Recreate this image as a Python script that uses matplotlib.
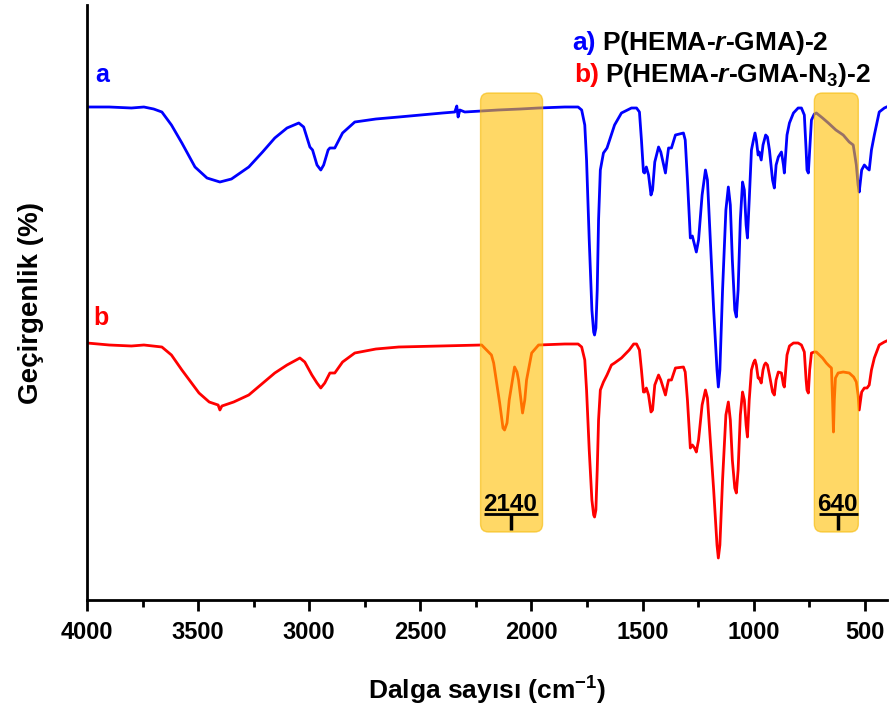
import numpy as np
import matplotlib
matplotlib.use("Agg")
import matplotlib.pyplot as plt
from matplotlib.patches import FancyBboxPatch

plt.rcParams['font.family'] = ['Liberation Sans', 'DejaVu Sans']
plt.rcParams['font.weight'] = 'bold'
plt.rcParams['mathtext.fontset'] = 'custom'
plt.rcParams['mathtext.rm'] = 'Liberation Sans:bold'
plt.rcParams['mathtext.bf'] = 'Liberation Sans:bold'
plt.rcParams['mathtext.it'] = 'Liberation Sans:bold:italic'

# spectrum a) P(HEMA-r-GMA)-2 : wavenumber (cm-1), transmittance (a.u., offset)
wn_a = [4000, 3900, 3800, 3744, 3700, 3663, 3620, 3573, 3514, 3460, 3402, 3350,
        3272, 3210, 3155, 3100, 3047, 3025, 2997, 2985, 2965, 2948, 2935, 2915,
        2907, 2885, 2850, 2795, 2700, 2597, 2500, 2400, 2345, 2336, 2330, 2322,
        2300, 2224, 2150, 2050, 1968, 1850, 1790, 1774, 1760, 1752, 1740, 1728,
        1720, 1716, 1710, 1704, 1698, 1690, 1676, 1660, 1626, 1595, 1550, 1527,
        1514, 1505, 1496, 1491, 1483, 1473, 1462, 1455, 1445, 1428, 1418, 1397,
        1390, 1383, 1370, 1352, 1316, 1308, 1298, 1285, 1276, 1266, 1258, 1248,
        1232, 1217, 1208, 1195, 1180, 1165, 1159, 1152, 1140, 1125, 1114, 1105,
        1096, 1085, 1078, 1070, 1060, 1050, 1042, 1034, 1028, 1020, 1010, 1001,
        994, 988, 980, 975, 966, 958, 952, 946, 938, 929, 915, 907, 899, 889,
        875, 866, 862, 850, 839, 821, 800, 785, 772, 764, 760, 754, 748, 740,
        727, 718, 690, 664, 630, 597, 570, 552, 538, 530, 525, 514, 502, 490,
        480, 470, 457, 435, 412, 402]
t_a = [493, 493, 492, 493, 491, 488, 475, 457, 433, 422, 418, 421,
       433, 448, 462, 472, 477, 473, 453, 450, 435, 430, 435, 450,
       452, 452, 467, 478, 481, 483, 485, 487, 488, 494, 483, 490,
       488, 489, 490, 491, 492, 493, 493, 490, 475, 440, 360, 290,
       268, 265, 272, 310, 380, 430, 447, 452, 475, 487, 492, 492,
       488, 460, 428, 427, 433, 425, 405, 410, 438, 453, 448, 427,
       440, 452, 452, 465, 467, 460, 420, 362, 364, 355, 348, 360,
       405, 430, 420, 360, 290, 230, 213, 230, 310, 390, 413, 395,
       340, 290, 283, 310, 380, 418, 410, 375, 362, 400, 450, 460,
       467, 460, 445, 448, 440, 455, 460, 465, 463, 450, 420, 412, 435, 443,
       448, 435, 427, 465, 477, 487, 492, 492, 485, 450, 430, 427, 450, 480,
       486, 487, 482, 477, 470, 465, 458, 455, 435, 415, 408, 430, 435, 432,
       430, 450, 465, 488, 492, 493]

# spectrum b) P(HEMA-r-GMA-N3)-2
wn_b = [4000, 3900, 3800, 3744, 3663, 3620, 3573, 3496, 3450, 3410, 3402, 3393,
        3340, 3272, 3155, 3100, 3042, 3020, 2988, 2965, 2948, 2930, 2907, 2885,
        2850, 2795, 2700, 2597, 2400, 2224, 2193, 2180, 2170, 2143, 2128, 2121,
        2110, 2100, 2076, 2065, 2058, 2040, 2030, 2022, 1999, 1968, 1850, 1790,
        1774, 1760, 1752, 1740, 1728, 1720, 1716, 1710, 1704, 1698, 1690, 1676,
        1660, 1640, 1626, 1595, 1560, 1540, 1527, 1514, 1505, 1496, 1491, 1483,
        1473, 1462, 1455, 1445, 1428, 1418, 1397, 1390, 1383, 1370, 1352, 1316,
        1308, 1298, 1285, 1276, 1266, 1258, 1248, 1232, 1217, 1208, 1195, 1180,
        1165, 1159, 1152, 1140, 1125, 1114, 1105, 1096, 1085, 1078, 1070, 1060,
        1050, 1042, 1034, 1028, 1020, 1010, 1001, 994, 988, 980, 975, 966, 958,
        952, 946, 938, 929, 915, 907, 899, 889, 875, 866, 862, 850, 839, 821,
        800, 785, 772, 764, 760, 754, 748, 740, 727, 718, 690, 673, 660, 650,
        645, 641, 637, 632, 620, 597, 570, 550, 538, 530, 525, 514, 502, 490,
        480, 470, 457, 435, 412, 402]
t_b = [257, 255, 254, 255, 253, 245, 230, 207, 198, 195, 190, 194,
       198, 205, 227, 235, 242, 238, 225, 217, 212, 217, 227, 227,
       238, 247, 251, 253, 254, 255, 248, 245, 237, 197, 172, 170,
       177, 200, 233, 228, 220, 187, 200, 220, 247, 255, 256, 256,
       253, 240, 210, 150, 100, 85, 83, 90, 130, 180, 210, 218,
       225, 235, 237, 242, 250, 256, 256, 250, 230, 208, 208, 212,
       205, 188, 190, 215, 225, 220, 205, 213, 220, 220, 232, 233,
       228, 200, 152, 155, 152, 148, 160, 195, 210, 202, 160, 110,
       55, 42, 55, 120, 185, 198, 180, 140, 112, 107, 130, 185,
       208, 200, 175, 163, 200, 230, 237, 240, 235, 222, 222, 217, 230,
       235, 237, 235, 225, 208, 205, 220, 228, 227, 215, 213, 245, 254, 257,
       257, 255, 248, 220, 210, 207, 230, 247, 248, 248, 242, 237, 234, 232,
       200, 168, 200, 222, 227, 228, 227, 223, 218, 205, 190, 208, 212, 212,
       215, 230, 242, 255, 258, 259]

# highlighted regions and peak marks
regions = [(2229, 1950), (727, 529)]
peak_labels = ['2140', '640']
peak_pos = [2094, 619]

fig = plt.figure(figsize=(8.9, 7.09), dpi=100)
ax = fig.add_axes([87 / 890, 109 / 709, 800 / 890, 595 / 709])

blue = '#0000FF'
red = '#FF0000'
ax.plot(wn_a, t_a, color=blue, lw=2.0, zorder=2)
ax.plot(wn_b, t_b, color=red, lw=2.0, zorder=2)

px = 4.496  # wavenumber units per pixel
for (hi, lo) in regions:
    box = FancyBboxPatch((lo, 68), hi - lo, 439,
                         boxstyle="round,pad=0,rounding_size=36",
                         mutation_aspect=1 / px,
                         facecolor='#FFBE00', edgecolor='#F5B800',
                         alpha=0.6, lw=1.0, zorder=3)
    ax.add_patch(box)

for (hi, lo), lab, pos in zip(regions, peak_labels, peak_pos):
    ax.text(pos + 3, 89, lab, ha='center', va='baseline', fontsize=17.5,
            fontweight='bold', zorder=4)
    half = 27 * px if len(lab) == 4 else 19.5 * px
    ax.plot([pos + half, pos - half], [86, 86], color='black', lw=2, zorder=4,
            solid_capstyle='butt')
    ax.plot([pos, pos], [86, 70], color='black', lw=2.5, zorder=4,
            solid_capstyle='butt')

ax.text(3930, 518, 'a', color=blue, fontsize=18, fontweight='bold', va='baseline', ha='center')
ax.text(3935, 275, 'b', color=red, fontsize=18, fontweight='bold', va='baseline', ha='center')

ax.text(1818, 550, 'a)', color=blue, fontsize=19, fontweight='bold', va='baseline')
ax.text(1682, 550, r'P(HEMA-$\mathit{r}$-GMA)-2', color='black', fontsize=19,
        fontweight='bold', va='baseline')
ax.text(1808, 518, 'b)', color=red, fontsize=19, fontweight='bold', va='baseline')
ax.text(1670, 518, r'P(HEMA-$\mathit{r}$-GMA-N$_3$)-2', color='black', fontsize=19,
        fontweight='bold', va='baseline')

ax.set_xlim(4000, 400)
ax.set_ylim(0, 595)
ax.set_xticks(np.arange(4000, 399, -500))
ax.set_xticks(np.arange(3750, 399, -500), minor=True)
ax.set_yticks([])
for s in ['top', 'right']:
    ax.spines[s].set_visible(False)
for s in ['left', 'bottom']:
    ax.spines[s].set_linewidth(2)
ax.tick_params(axis='x', which='major', length=8, width=2, labelsize=17, pad=7)
ax.tick_params(axis='x', which='minor', length=5, width=2)
for lab in ax.get_xticklabels():
    lab.set_fontweight('bold')

ax.set_xlabel(r'Dalga sayısı (cm$^{-1}$)', fontsize=19, fontweight='bold', labelpad=22)
ax.set_ylabel('Geçirgenlik (%)', fontsize=20, fontweight='bold', labelpad=31)

fig.savefig('out.png', dpi=100)
